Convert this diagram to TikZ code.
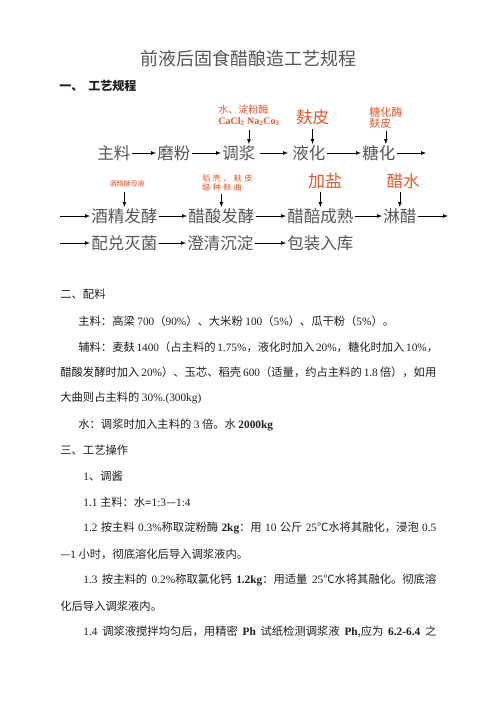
\documentclass[tikz,border=0pt]{standalone}
\usepackage{fontspec}
\setmainfont{Liberation Serif}
\newfontfamily\cjk{Noto Sans CJK SC}
\usepackage{tikz}
\usetikzlibrary{arrows,positioning}
\definecolor{addred}{RGB}{228,86,46}
\definecolor{stepgray}{RGB}{85,85,85}
\definecolor{bodyblack}{RGB}{30,30,30}
\newcommand{\lat}[1]{{\rmfamily #1}}
\newcommand{\latb}[1]{{\rmfamily\bfseries #1}}
\newcommand{\gapch}{\hspace{2.5pt}}

\begin{document}
\begin{tikzpicture}[x=1pt, y=-1pt, >=latex, line width=0.7pt,
  step node/.style={anchor=west, inner sep=1pt, text=stepgray, font=\cjk\fontsize{16.5}{18}\selectfont},
  add node/.style={inner sep=0pt, text=addred, align=left},
  text line/.style={anchor=west, inner sep=0pt, text=bodyblack, font=\cjk\fontsize{11.3}{13}\selectfont}]
\useasboundingbox (0,0) rectangle (496,702);
% heading
\node[text=stepgray, font=\cjk\fontsize{18}{20}\selectfont] (title) at (248,59) {前液后固食醋酿造工艺规程};
\node[anchor=west, inner sep=0pt, text=bodyblack, font=\cjk\bfseries\fontsize{12}{14}\selectfont] (head) at (59,86) {一、\hspace{5pt}工艺规程};
% flow, first row
\node[step node] (zl) at (96,153) {主料};
\node[step node] (mf) at (156,153) {磨粉};
\node[step node] (tj) at (221,153) {调浆};
\node[step node] (yh) at (291,153) {液化};
\node[step node] (th) at (361,153) {糖化};
\coordinate (e1) at (426,153);
\node[add node, anchor=west, font=\cjk\fontsize{10}{11}\selectfont] (a1) at (218,115.5) {水、淀粉酶\\\latb{CaCl\textsubscript{2} Na\textsubscript{2}Co\textsubscript{3}}};
\node[add node, font=\cjk\fontsize{16.5}{18}\selectfont] (a2) at (312.5,117) {麸皮};
\node[add node, anchor=west, font=\cjk\fontsize{11}{11}\selectfont] (a3) at (369,117.5) {糖化酶\\麸皮};
% flow, second row
\coordinate (s2) at (60,216);
\node[step node] (jj) at (90,216) {酒精发酵};
\node[step node] (cs) at (187,216) {醋酸发酵};
\node[step node] (cp) at (286,216) {醋醅成熟};
\node[step node] (lc) at (382,216) {淋醋};
\coordinate (e2) at (448,216);
\node[add node, font=\cjk\fontsize{7}{8}\selectfont] (b1) at (127,184) {酒精酵母液};
\node[add node, anchor=west, font=\cjk\fontsize{8}{9}\selectfont] (b2) at (202,182.5) {稻\gapch 壳\gapch 、\gapch 麸\gapch 皮\\醋\gapch 种\gapch 麸\gapch 曲};
\node[add node, font=\cjk\fontsize{17}{18}\selectfont] (b3) at (325,181) {加盐};
\node[add node, font=\cjk\fontsize{16.5}{18}\selectfont] (b4) at (403,181) {醋水};
% flow, third row
\coordinate (s3) at (60,243);
\node[step node] (pd) at (90,243) {配兑灭菌};
\node[step node] (qc) at (186,243) {澄清沉淀};
\node[step node] (bz) at (286,243) {包装入库};
% arrows
\begin{scope}[every path/.style={->, draw=black}]
\draw (zl) -- (mf);
\draw (mf) -- (tj);
\draw ([xshift=3pt]tj.east) -- ([xshift=-3pt]yh.west);
\draw (yh) -- (th);
\draw (th.east) -- (e1);
\draw (s2) -- (jj.west);
\draw (jj) -- (cs);
\draw (cs) -- (cp);
\draw (cp) -- (lc);
\draw (lc.east) -- (e2);
\draw (s3) -- (pd.west);
\draw (pd) -- (qc);
\draw (qc) -- (bz);
\draw[shorten <=4pt] (a1.south) -- (a1.south |- tj.north);
\draw[shorten <=4pt] (a2.south) -- (a2.south |- yh.north);
\draw[shorten <=3pt] (a3.south) -- (a3.south |- th.north);
\draw[shorten <=4pt] (b1.south -| jj.north) -- (jj.north);
\draw[shorten <=3pt] (b2.south -| cs.north) -- (cs.north);
\draw[shorten <=3pt] (b3.south -| cp.north) -- (cp.north);
\draw[shorten <=3pt] (b4.south -| lc.north) -- (lc.north);
\end{scope}
% text below
\node[text line] (t1) at (60,294) {二、配料};
\node[text line] (t2) at (78,321) {主料：高梁 \lat{700}（\lat{90\%}）、大米粉 \lat{100}（\lat{5\%}）、瓜干粉（\lat{5\%}）。};
\node[text line] (t3) at (78,347) {\makebox[358pt][s]{辅料：麦麸 \lat{1400}（占主料的 \lat{1.75\%}，液化时加入 \lat{20\%}，糖化时加入 \lat{10\%}，}};
\node[text line] (t4) at (60,372) {\makebox[376pt][s]{醋酸发酵时加入 \lat{20\%}）、玉芯、稻壳 \lat{600}（适量，约占主料的 \lat{1.8} 倍），如用}};
\node[text line] (t5) at (60,398) {大曲则占主料的 \lat{30\%.(300kg)}};
\node[text line] (t6) at (78,425) {水：调浆时加入主料的 \lat{3} 倍。水 \latb{2000kg}};
\node[text line] (t7) at (60,450) {三、工艺操作};
\node[text line] (t8) at (83,476) {\lat{1}、调酱};
\node[text line] (t9) at (83,502) {\lat{1.1} 主料：水\latb{=}\lat{1:3}—\lat{1:4}};
\node[text line] (t10) at (83,528) {\makebox[353pt][s]{\lat{1.2} 按主料 \lat{0.3\%}称取淀粉酶 \latb{2kg}：用 \lat{10} 公斤 \lat{25}℃水将其融化，浸泡 \lat{0.5}}};
\node[text line] (t11) at (60,554) {—\lat{1} 小时，彻底溶化后导入调浆液内。};
\node[text line] (t12) at (83,580) {\makebox[353pt][s]{\lat{1.3} 按主料的 \lat{0.2\%}称取氯化钙 \latb{1.2kg}：用适量 \lat{25}℃水将其融化。彻底溶}};
\node[text line] (t13) at (60,606) {化后导入调浆液内。};
\node[text line] (t14) at (83,632) {\makebox[353pt][s]{\lat{1.4} 调浆液搅拌均匀后，用精密 \latb{Ph} 试纸检测调浆液 \latb{Ph},应为 \latb{6.2-6.4} 之}};
\end{tikzpicture}
\end{document}
